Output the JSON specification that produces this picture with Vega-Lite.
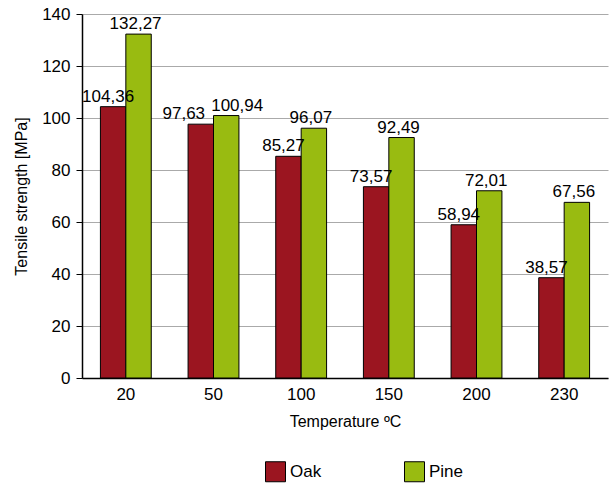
{
  "$schema": "https://vega.github.io/schema/vega-lite/v6.json",
  "width": 526,
  "height": 364,
  "autosize": "none",
  "padding": {"left": 82, "top": 14, "right": 5, "bottom": 107},
  "background": "white",
  "config": {
    "font": "Liberation Sans",
    "view": {"stroke": null},
    "axis": {"labelColor": "black", "titleColor": "black", "titleFontWeight": "normal", "labelFont": "Liberation Sans", "titleFont": "Liberation Sans"}
  },
  "data": {
    "values": [
      {"t": "20", "s": "Oak", "v": 104.36, "lab": "104,36"},
      {"t": "20", "s": "Pine", "v": 132.27, "lab": "132,27"},
      {"t": "50", "s": "Oak", "v": 97.63, "lab": "97,63"},
      {"t": "50", "s": "Pine", "v": 100.94, "lab": "100,94"},
      {"t": "100", "s": "Oak", "v": 85.27, "lab": "85,27"},
      {"t": "100", "s": "Pine", "v": 96.07, "lab": "96,07"},
      {"t": "150", "s": "Oak", "v": 73.57, "lab": "73,57"},
      {"t": "150", "s": "Pine", "v": 92.49, "lab": "92,49"},
      {"t": "200", "s": "Oak", "v": 58.94, "lab": "58,94"},
      {"t": "200", "s": "Pine", "v": 72.01, "lab": "72,01"},
      {"t": "230", "s": "Oak", "v": 38.57, "lab": "38,57"},
      {"t": "230", "s": "Pine", "v": 67.56, "lab": "67,56"}
    ]
  },
  "encoding": {
    "x": {
      "field": "t", "type": "nominal", "sort": null,
      "scale": {"paddingInner": 0.42, "paddingOuter": 0.21},
      "axis": {"title": "Temperature ºC", "labelAngle": 0, "labelFontSize": 17, "titleFontSize": 16, "domainColor": "black", "domainWidth": 1.5, "ticks": false, "labelPadding": 8, "titlePadding": 11}
    },
    "xOffset": {"field": "s", "type": "nominal"},
    "y": {
      "field": "v", "type": "quantitative",
      "scale": {"domain": [0, 140]},
      "axis": {"title": "Tensile strength [MPa]", "values": [0,20,40,60,80,100,120,140], "labelFontSize": 17, "titleFontSize": 16, "domainColor": "black", "domainWidth": 1.5, "tickColor": "black", "tickSize": 6, "gridColor": "#aaaaaa", "labelPadding": 6, "titlePadding": 12}
    }
  },
  "layer": [
    {
      "mark": {"type": "bar", "stroke": "black", "strokeWidth": 1},
      "encoding": {
        "color": {
          "field": "s", "type": "nominal",
          "scale": {"domain": ["Oak", "Pine"], "range": ["#9b1520", "#99bb11"]},
          "legend": {"title": null, "orient": "none", "legendX": 183, "legendY": 447, "direction": "horizontal", "symbolType": "square", "symbolSize": 400, "symbolStrokeColor": "black", "symbolStrokeWidth": 1, "labelFontSize": 17, "labelColor": "black", "columnPadding": 80, "labelOffset": 4}
        }
      }
    },
    {
      "transform": [{"filter": "datum.t != '50' && datum.s == 'Oak'"}],
      "mark": {"type": "text", "baseline": "bottom", "dy": -1, "dx": -5, "fontSize": 17, "color": "black"},
      "encoding": {"text": {"field": "lab"}}
    },
    {
      "transform": [{"filter": "datum.t != '50' && datum.s == 'Pine'"}],
      "mark": {"type": "text", "baseline": "bottom", "dy": -1, "dx": -3, "fontSize": 17, "color": "black"},
      "encoding": {"text": {"field": "lab"}}
    },
    {
      "transform": [{"filter": "datum.t == '50' && datum.s == 'Oak'"}],
      "mark": {"type": "text", "baseline": "bottom", "dy": -1, "dx": -17, "fontSize": 17, "color": "black"},
      "encoding": {"text": {"field": "lab"}}
    },
    {
      "transform": [{"filter": "datum.t == '50' && datum.s == 'Pine'"}],
      "mark": {"type": "text", "baseline": "bottom", "dy": -1, "dx": 11, "fontSize": 17, "color": "black"},
      "encoding": {"text": {"field": "lab"}}
    }
  ]
}
